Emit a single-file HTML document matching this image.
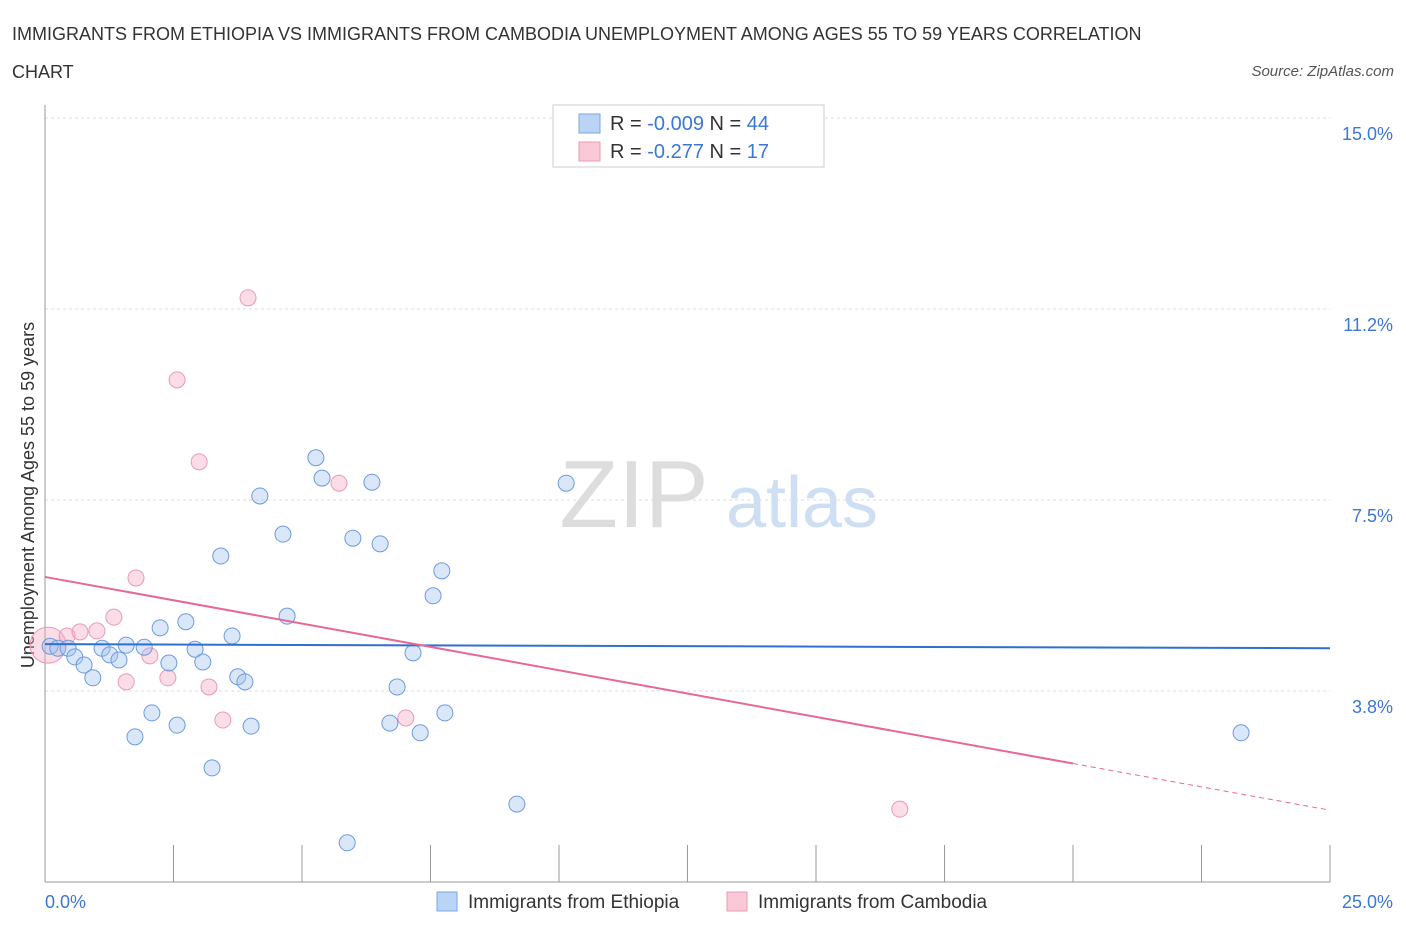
<!DOCTYPE html>
<html><head><meta charset="utf-8"><style>
body{margin:0;background:#fff;font-family:"Liberation Sans",sans-serif;}
svg text{font-family:"Liberation Sans",sans-serif;}
</style></head><body>
<svg id="c" width="1406" height="930" xmlns="http://www.w3.org/2000/svg">
<text x="12" y="40" font-size="18" fill="#333">IMMIGRANTS FROM ETHIOPIA VS IMMIGRANTS FROM CAMBODIA UNEMPLOYMENT AMONG AGES 55 TO 59 YEARS CORRELATION</text>
<text x="12" y="78" font-size="18" fill="#333">CHART</text>
<text x="1394" y="76" font-size="15" fill="#555" font-style="italic" text-anchor="end">Source: ZipAtlas.com</text>
<text x="634" y="527" font-size="96" fill="#ddd" font-family="Liberation Serif" text-anchor="middle">ZIP</text>
<text x="802" y="527" font-size="72" fill="#cfdff3" text-anchor="middle">atlas</text>
<text transform="translate(34,495) rotate(-90)" font-size="18" fill="#333" text-anchor="middle">Unemployment Among Ages 55 to 59 years</text>
<g id="grid"></g><g id="marks"></g>
<g>
<rect x="553" y="105" width="271" height="62" fill="#fff" stroke="#ccc"/>
<rect x="579" y="114" width="21" height="19" fill="#b9d4f5" stroke="#7aa6e0"/>
<rect x="579" y="142" width="21" height="19" fill="#f9c9d8" stroke="#eb9ab5"/>
<text x="610" y="130" font-size="20" fill="#333">R = <tspan fill="#3a78d4">-0.009</tspan>   N = <tspan fill="#3a78d4">44</tspan></text>
<text x="610" y="158" font-size="20" fill="#333">R =  <tspan fill="#3a78d4">-0.277</tspan>   N =  <tspan fill="#3a78d4">17</tspan></text>
</g>
<g>
<rect x="437" y="892" width="20" height="19" fill="#b9d4f5" stroke="#7aa6e0"/>
<text x="468" y="908" font-size="19" fill="#333">Immigrants from Ethiopia</text>
<rect x="727" y="892" width="20" height="19" fill="#f9c9d8" stroke="#eb9ab5"/>
<text x="758" y="908" font-size="19" fill="#333">Immigrants from Cambodia</text>
</g>
</svg>
<script>
const yTicks=[3.75,7.5,11.25,15];
const yTickLabels=["3.8%","7.5%","11.2%","15.0%"];
const xTickLabels=["0.0%","25.0%"];
const blueX=[0.10,0.25,0.45,0.58,0.76,0.93,1.11,1.26,1.44,1.58,1.75,1.93,2.08,2.24,2.41,2.57,2.74,2.92,3.07,3.25,3.42,3.64,3.75,3.89,4.01,4.18,4.63,4.71,5.27,5.39,5.99,6.36,6.52,6.71,6.85,7.16,7.30,7.55,7.72,7.78,9.18,5.88,10.14,23.27];
const blueY=[4.63,4.59,4.59,4.42,4.26,4.01,4.59,4.46,4.36,4.65,2.85,4.61,3.32,4.99,4.30,3.08,5.11,4.57,4.32,2.24,6.40,4.83,4.03,3.93,3.06,7.58,6.83,5.22,8.33,7.93,6.75,7.85,6.64,3.12,3.83,4.50,2.93,5.62,6.11,3.32,1.53,0.77,7.83,2.93];
const pinkX=[0.06,0.43,0.68,1.01,1.34,1.58,1.77,2.04,2.39,2.57,3.00,3.19,3.46,3.95,5.72,7.02,16.63];
const pinkY=[4.65,4.83,4.91,4.93,5.20,3.93,5.97,4.44,4.01,9.86,8.25,3.83,3.18,11.47,7.83,3.22,1.43];
const blueTrend=[4.67,4.59];
const pinkTrend=[5.99,1.41];
const X=v=>45+v*51.4, Y=v=>882-v*50.93;
const NS="http://www.w3.org/2000/svg";
function mk(t,a,p){const e=document.createElementNS(NS,t);for(const k in a)e.setAttribute(k,a[k]);p.appendChild(e);return e;}
const g=document.getElementById('grid'),m=document.getElementById('marks');
yTicks.forEach((v,i)=>{
 const l=mk('line',{x1:45,x2:1330,y1:Y(v),y2:Y(v),stroke:'#ddd','stroke-dasharray':'3,3'},g);
 
 
 const t=mk('text',{x:1393,y:Y(v)+22,'font-size':18,fill:'#3a78d4','text-anchor':'end'},g);
 t.textContent=yTickLabels[i];
 
 
});
mk('line',{x1:45,x2:45,y1:105,y2:882,stroke:'#999'},g);
mk('line',{x1:45,x2:1330,y1:882,y2:882,stroke:'#999'},g);
for(let i=0;i<=10;i++){const l=mk('line',{x1:X(i*2.5),x2:X(i*2.5),y1:845,y2:882,stroke:'#999'},g);
 
 }
[[0,45,'start'],[1,1393,'end']].forEach(([i,x,a])=>{const t=mk('text',{x:x,y:908,'font-size':18,fill:'#3a78d4','text-anchor':a},g);t.textContent=xTickLabels[i];
 
 });
pinkX.forEach((x,i)=>{const c=mk('circle',{cx:X(x),cy:Y(pinkY[i]),r:i==0?18:8,fill:'rgba(245,170,195,0.4)',stroke:'#eb9ab5','stroke-width':1},m);
 
 });
blueX.forEach((x,i)=>{const c=mk('circle',{cx:X(x),cy:Y(blueY[i]),r:8,fill:'rgba(160,195,240,0.4)',stroke:'#6c9be0','stroke-width':1},m);
 
 });
const bl=mk('line',{x1:X(0),y1:Y(blueTrend[0]),x2:X(25),y2:Y(blueTrend[1]),stroke:'#2f6fd0','stroke-width':2},m);


const pm=v=>pinkTrend[0]+(pinkTrend[1]-pinkTrend[0])*v/25;
const pl=mk('line',{x1:X(0),y1:Y(pm(0)),x2:X(20),y2:Y(pm(20)),stroke:'#e8679a','stroke-width':2},m);


const pd=mk('line',{x1:X(20),y1:Y(pm(20)),x2:X(25),y2:Y(pm(25)),stroke:'#e8679a','stroke-width':1,'stroke-dasharray':'5,4'},m);


</script>
</body></html>
